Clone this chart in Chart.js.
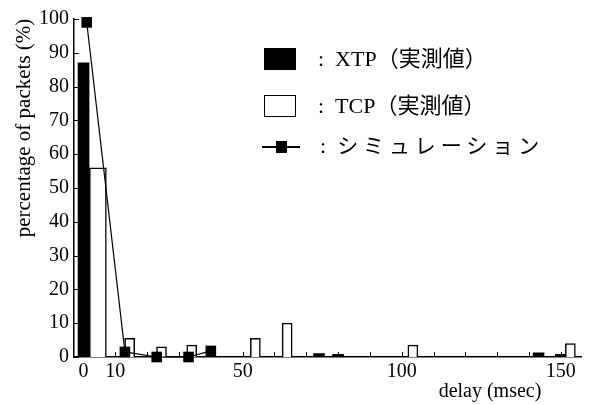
<!DOCTYPE html>
<html>
<head>
<meta charset="utf-8">
<script src="https://cdn.jsdelivr.net/npm/chart.js@4"></script>
<style>
  body { margin: 0; background: #fff; }
  #wrap { position: relative; width: 589px; height: 405px; }
  .legend-row { position: absolute; font-family: "Liberation Serif", "Noto Sans CJK JP", serif; font-size: 22px; color: #000; white-space: nowrap; line-height: 24px; }
  .swatch { position: absolute; box-sizing: border-box; }
</style>
</head>
<body>
<div id="wrap">
  <canvas id="delayChart" width="589" height="405"></canvas>

  <!-- legend, laid out like the scanned figure -->
  <div class="swatch" style="left:264px; top:48px; width:32px; height:22px; background:#000;"></div>
  <div class="legend-row" style="left:318px; top:47px;">:&nbsp;&nbsp;XTP（実測値）</div>

  <div class="swatch" style="left:264px; top:95px; width:32px; height:22px; border:1.5px solid #000; background:#fff;"></div>
  <div class="legend-row" style="left:318px; top:94px;">:&nbsp;&nbsp;TCP（実測値）</div>

  <div class="swatch" style="left:262px; top:146px; width:38px; height:2px; background:#000;"></div>
  <div class="swatch" style="left:276px; top:141px; width:11px; height:12px; background:#000;"></div>
  <div class="legend-row" style="left:320px; top:134px;">:&nbsp;&nbsp;<span style="letter-spacing:5px; font-size:21px;">シミュレーション</span></div>
</div>

<script>
// delay (msec) / percentage of packets (%)
const xtpDelay = [0, 74, 80, 143, 150];
const xtpPct = [87, 1, 0.8, 1.2, 0.8];

const tcpDelay = [4.5, 14.5, 24.5, 34, 54, 64, 103.5, 153];
const tcpPct = [56, 5.5, 3, 3.5, 5.5, 10, 3.5, 4];

const simDelay = [1, 13, 23, 33, 40];
const simPct = [99, 1.5, 0, 0, 1.8];

const xLabels = [0, 10, 50, 100, 150];

const toPoints = (xs, ys) => xs.map((x, i) => ({ x: x, y: ys[i] }));

// inner tick marks plus the two axis titles
const axisExtras = {
    id: 'axisExtras',
    afterDraw(chart) {
        const { ctx, chartArea, scales: { x, y } } = chart;
        ctx.save();
        ctx.strokeStyle = '#000';
        ctx.lineWidth = 1;
        ctx.beginPath();
        x.ticks.forEach(t => {
            const px = Math.round(x.getPixelForValue(t.value)) + 0.5;
            ctx.moveTo(px, chartArea.bottom);
            ctx.lineTo(px, chartArea.bottom - 5);
        });
        y.ticks.forEach(t => {
            const py = Math.round(y.getPixelForValue(t.value)) + 0.5;
            ctx.moveTo(chartArea.left, py);
            ctx.lineTo(chartArea.left + 5, py);
        });
        ctx.stroke();

        ctx.fillStyle = '#000';
        ctx.textAlign = 'center';
        ctx.textBaseline = 'middle';
        ctx.font = '20px "Liberation Serif"';
        ctx.fillText('delay (msec)', 490, 392);
        ctx.translate(24, 128);
        ctx.rotate(-Math.PI / 2);
        ctx.font = '21px "Liberation Serif"';
        ctx.fillText('percentage of packets (%)', 0, 0);
        ctx.restore();
    }
};

const ctx = document.getElementById('delayChart').getContext('2d');
new Chart(ctx, {
    type: 'bar',
    data: {
        datasets: [{
            type: 'line',
            label: 'シミュレーション',
            data: toPoints(simDelay, simPct),
            borderColor: '#000',
            borderWidth: 1.2,
            pointStyle: 'rect',
            pointRadius: 7.5,
            pointBackgroundColor: '#000',
            pointBorderColor: '#000',
            pointBorderWidth: 0,
            tension: 0,
            clip: false,
            order: 0
        }, {
            label: 'XTP（実測値）',
            data: toPoints(xtpDelay, xtpPct),
            backgroundColor: '#000',
            borderWidth: 0,
            barThickness: 11,
            grouped: false,
            order: 2
        }, {
            label: 'TCP（実測値）',
            data: toPoints(tcpDelay.slice(0, 1), tcpPct.slice(0, 1)),
            backgroundColor: '#fff',
            borderColor: '#000',
            borderWidth: 1.5,
            barThickness: 17,
            grouped: false,
            order: 1
        }, {
            label: 'TCP（実測値）',
            data: toPoints(tcpDelay.slice(1), tcpPct.slice(1)),
            backgroundColor: '#fff',
            borderColor: '#000',
            borderWidth: 1.5,
            barThickness: 10,
            grouped: false,
            order: 1
        }]
    },
    options: {
        responsive: false,
        devicePixelRatio: 1,
        animation: false,
        layout: { padding: { top: 19, left: 0, right: 0, bottom: 0 } },
        scales: {
            x: {
                type: 'linear',
                offset: false,
                min: -3,
                max: 156.5,
                afterFit: (s) => { s.height = 48; },
                grid: { display: false, drawTicks: false, offset: false },
                border: { display: true, color: '#000', width: 1.5 },
                ticks: {
                    stepSize: 10,
                    includeBounds: false,
                    autoSkip: false,
                    maxRotation: 0,
                    padding: 3,
                    color: '#000',
                    font: { family: 'Liberation Serif', size: 20 },
                    callback: (v) => xLabels.includes(v) ? String(v) : ''
                }
            },
            y: {
                min: 0,
                max: 100,
                afterFit: (s) => { s.width = 74; },
                grid: { display: false, drawTicks: false },
                border: { display: true, color: '#000', width: 1.5 },
                ticks: {
                    stepSize: 10,
                    padding: 5,
                    color: '#000',
                    font: { family: 'Liberation Serif', size: 20 }
                }
            }
        },
        plugins: {
            legend: { display: false },
            tooltip: { enabled: false }
        }
    },
    plugins: [axisExtras]
});
</script>
</body>
</html>
